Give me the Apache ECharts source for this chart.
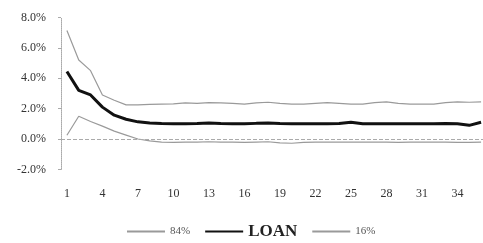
<!DOCTYPE html>
<html><head><meta charset="utf-8">
<script src="https://cdn.jsdelivr.net/npm/echarts@6/dist/echarts.min.js"></script>
<style>html,body{margin:0;padding:0;background:#fff;overflow:hidden}#c{width:500px;height:243px}</style>
</head><body><div id="c"></div>
<script>
const periods = Array.from({length:36},(_,i)=>String(i+1));
const loan = [4.45,3.2,2.9,2.1,1.57,1.3,1.13,1.05,1.02,1.0,1.0,1.02,1.05,1.02,1.0,1.0,1.03,1.05,1.02,1.0,1.0,1.0,1.0,1.02,1.1,1.0,1.0,1.0,1.0,1.0,1.0,1.0,1.02,1.0,0.9,1.1];
const upper84 = [7.15,5.2,4.5,2.9,2.55,2.25,2.25,2.28,2.3,2.32,2.38,2.35,2.4,2.38,2.35,2.3,2.38,2.42,2.35,2.3,2.3,2.35,2.4,2.35,2.3,2.3,2.4,2.45,2.35,2.3,2.3,2.3,2.4,2.45,2.42,2.45];
const lower16 = [0.25,1.5,1.15,0.85,0.52,0.26,0.0,-0.12,-0.2,-0.22,-0.2,-0.2,-0.18,-0.2,-0.2,-0.22,-0.2,-0.18,-0.25,-0.28,-0.22,-0.2,-0.2,-0.2,-0.2,-0.2,-0.2,-0.2,-0.22,-0.2,-0.2,-0.2,-0.2,-0.22,-0.22,-0.2];
const yTicks = {min:-2, max:8, interval:2};

const chart = echarts.init(document.getElementById('c'));
const font = '"Liberation Serif", serif';
chart.setOption({
  animation:false,
  textStyle:{fontFamily:font},
  grid:{left:61, width:426, top:17.5, bottom:73.6},
  legend:{
    bottom:-2, left:121, itemWidth:38, itemHeight:10, itemGap:14,
    data:[
      {name:'84%', itemStyle:{opacity:0}, textStyle:{fontSize:11,color:'#555'}},
      {name:'LOAN', itemStyle:{opacity:0}, textStyle:{fontSize:17,fontWeight:'bold',color:'#222'}},
      {name:'16%', itemStyle:{opacity:0}, textStyle:{fontSize:11,color:'#555'}}
    ]
  },
  xAxis:{
    type:'category', data:periods, boundaryGap:true,
    axisLine:{show:false}, axisTick:{show:false},
    axisLabel:{interval:2, margin:18, fontSize:12, color:'#333', fontFamily:font}
  },
  yAxis:{
    type:'value', min:yTicks.min, max:yTicks.max, interval:yTicks.interval,
    axisLine:{show:true, lineStyle:{color:'#aaa', type:'dotted', width:1}},
    axisTick:{show:true, length:3, lineStyle:{color:'#aaa'}},
    splitLine:{show:false},
    axisLabel:{margin:15, fontSize:12, color:'#333', fontFamily:font, formatter:v=>v.toFixed(1)+'%'}
  },
  series:[
    {name:'84%', type:'line', data:upper84, symbol:'none', lineStyle:{color:'#9a9a9a', width:1.2}, itemStyle:{color:'#9a9a9a'},
     markLine:{silent:true, symbol:'none', label:{show:false}, lineStyle:{color:'#aaa', type:'dashed', width:1}, data:[{yAxis:0}]}},
    {name:'LOAN', type:'line', data:loan, symbol:'none', lineStyle:{color:'#111', width:3}, itemStyle:{color:'#111'}},
    {name:'16%', type:'line', data:lower16, symbol:'none', lineStyle:{color:'#9a9a9a', width:1.2}, itemStyle:{color:'#9a9a9a'}}
  ]
});
</script></body></html>
